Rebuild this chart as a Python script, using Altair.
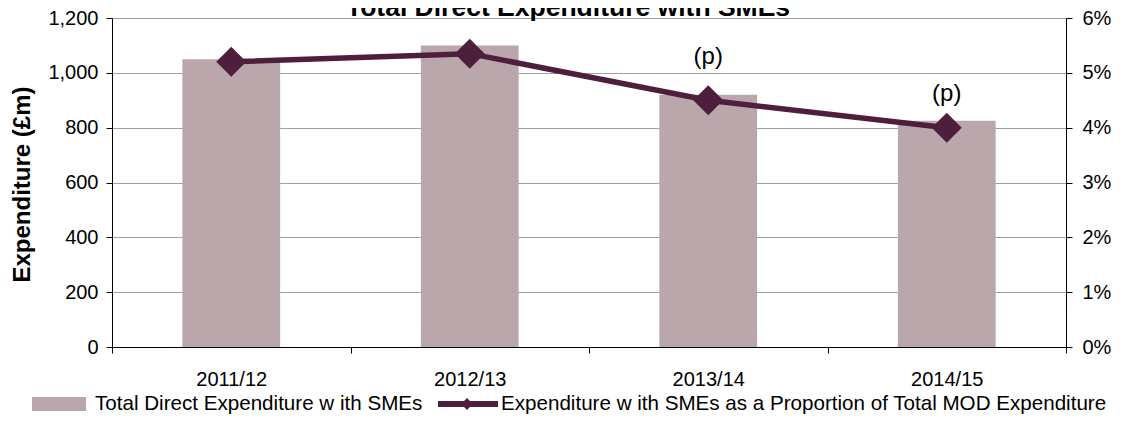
import altair as alt
import pandas as pd

years = ["2011/12", "2012/13", "2013/14", "2014/15"]
spend = [1050, 1100, 920, 825]
share = [5.2, 5.35, 4.5, 4.0]
flags = ["", "", "(p)", "(p)"]
left_ticks = [0, 200, 400, 600, 800, 1000, 1200]
right_ticks = [0, 1, 2, 3, 4, 5, 6]
title_text = "Total Direct Expenditure with SMEs"
y_title = "Expenditure (£m)"
legend_bar = "Total Direct Expenditure w ith SMEs"
legend_line = "Expenditure w ith SMEs as a Proportion of Total MOD Expenditure"

df = pd.DataFrame({"year": years, "spend": spend, "share": share, "flag": flags})

FONT = "Liberation Sans"
BAR = "#baa7ab"
LINE = "#4e1f3d"

x_enc = alt.X(
    "year:N", sort=years,
    scale=alt.Scale(paddingInner=0, paddingOuter=0),
    axis=alt.Axis(title=None, tickBand="extent", labelAngle=0, labelFontSize=20,
                  labelPadding=16, tickSize=6, domainColor="black", tickColor="black",
                  labelColor="black", grid=False),
)

base = alt.Chart(df)

bars = base.mark_bar(color=BAR, width=alt.RelativeBandSize(0.41)).encode(
    x=x_enc,
    y=alt.Y("spend:Q", scale=alt.Scale(domain=[0, 1200], nice=False),
            axis=alt.Axis(values=left_ticks, format=",.0f", title=y_title, grid=True,
                          gridColor="#a0a0a0", gridWidth=1, domainColor="black",
                          tickColor="black", tickSize=6, labelFontSize=20, labelPadding=8,
                          labelColor="black", titleFontSize=24, titleFontWeight="bold",
                          titleColor="black", titleX=-83, titleY=166, titleAngle=270,
                          titleAlign="center", titleBaseline="alphabetic")),
)

y_share = alt.Y("share:Q", scale=alt.Scale(domain=[0, 6], nice=False),
                axis=alt.Axis(orient="right", values=right_ticks, labelExpr="datum.value + '%'",
                              title=None, grid=False, domainColor="black", tickColor="black",
                              tickSize=6, labelFontSize=20, labelPadding=10, labelColor="black"))

line = base.mark_line(color=LINE, strokeWidth=5.5).encode(x=x_enc, y=y_share)
points = base.mark_point(shape="diamond", filled=True, size=900, color=LINE, opacity=1).encode(
    x=x_enc, y=y_share)
flag1 = base.transform_filter(alt.datum.year == "2013/14").mark_text(
    dy=-43, fontSize=24, baseline="middle", color="black").encode(x=x_enc, y=y_share, text="flag:N")
flag2 = base.transform_filter(alt.datum.year == "2014/15").mark_text(
    dy=-34, fontSize=24, baseline="middle", color="black").encode(x=x_enc, y=y_share, text="flag:N")

inner = alt.layer(line, points, flag1, flag2)

title_layer = alt.Chart(pd.DataFrame({"t": [title_text]})).mark_text(
    fontSize=26.5, fontWeight="bold", align="center", baseline="alphabetic", color="black"
).encode(text="t:N", x=alt.value(456), y=alt.value(-2.5))

leg_df = pd.DataFrame({"a": [legend_bar], "b": [legend_line]})
LY = 386
leg_rect = alt.Chart(leg_df).mark_rect(color=BAR).encode(
    x=alt.value(-80), x2=alt.value(-26), y=alt.value(LY - 7), y2=alt.value(LY + 7))
leg_text1 = alt.Chart(leg_df).mark_text(fontSize=20.6, align="left", baseline="middle", color="black").encode(
    text="a:N", x=alt.value(-17), y=alt.value(LY))
leg_rule = alt.Chart(leg_df).mark_rule(color=LINE, strokeWidth=6).encode(
    x=alt.value(326), x2=alt.value(386), y=alt.value(LY))
leg_pt = alt.Chart(leg_df).mark_point(shape="diamond", filled=True, size=140, color=LINE, opacity=1).encode(
    x=alt.value(355), y=alt.value(LY))
leg_text2 = alt.Chart(leg_df).mark_text(fontSize=20.6, align="left", baseline="middle", color="black").encode(
    text="b:N", x=alt.value(389), y=alt.value(LY))

chart = alt.layer(
    bars, inner, title_layer, leg_rect, leg_text1, leg_rule, leg_pt, leg_text2
).resolve_scale(y="independent").properties(
    width=954, height=329,
    autosize=alt.AutoSizeParams(type="none"),
    padding={"left": 104, "top": 10, "right": 54, "bottom": 70},
).configure(font=FONT).configure_view(stroke=None)

chart.save("out.html", embed_options={"renderer": "svg", "actions": False})
